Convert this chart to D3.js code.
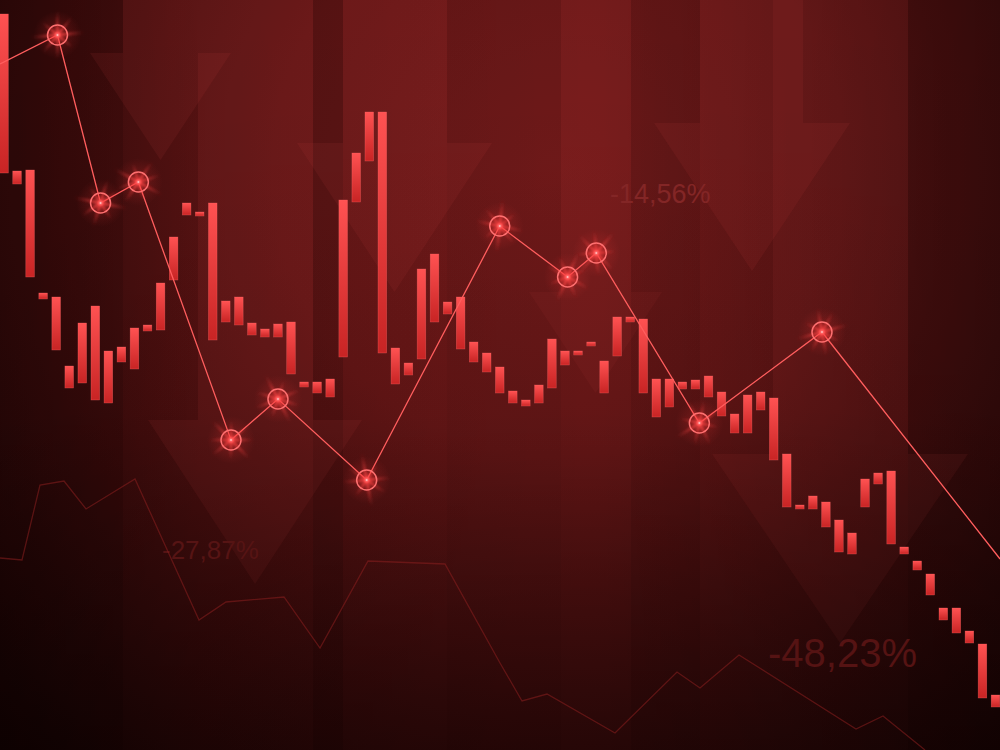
<!DOCTYPE html>
<html>
<head>
<meta charset="utf-8">
<script src="https://cdn.jsdelivr.net/npm/d3@7"></script>
<style>
html,body{margin:0;padding:0;background:#2a0606;}
svg{display:block;}
</style>
</head>
<body>
<svg id="chart" width="1000" height="750"></svg>
<script>
// ---------- DATA ----------
// candle index 0..76, high / low values (price units)
const candleHigh = [147.2,115.8,116,91.4,90.6,76.8,85.4,88.8,79.8,80.6,84.4,85,93.4,102.6,109.4,107.6,109.4,89.8,90.6,85.4,
  84.2,85.2,85.6,73.6,73.6,74.2,110,119.4,127.6,127.6,80.4,77.4,96.2,99.2,89.6,90.6,81.6,79.4,76.6,71.8,
  70,73,82.2,79.8,79.8,81.6,77.8,86.6,86.6,86.2,74.2,74.2,73.6,74,74.8,71.6,67.2,71,71.6,70.4,
  59.2,49,50.8,49.6,46,43.4,54.2,55.4,55.8,40.6,37.8,35.2,28.4,28.4,23.8,21.2,11];
const candleLow = [115.4,113.2,94.6,90.2,80,72.4,73.4,70,69.4,77.6,76.2,83.8,84,94,107,106.8,82,85.6,85,83,
  82.6,82.6,75.2,72.6,71.4,70.6,78.6,109.6,117.8,79.4,73.2,75,78.2,85.6,87.2,80.2,77.6,75.6,71.4,69.4,
  68.8,69.4,72.4,77,79,80.8,71.4,78.8,85.6,71.4,66.6,68.6,72.2,72.2,70.6,66.8,63.4,63.4,68,58,
  48.6,48.2,48.2,44.6,39.6,39.2,48.6,53.2,41.2,39.2,36,31,26,23.4,21.4,10.4,8.6];

// highlighted trend line (x in candle-index units)
const trendX = [-0.3,4.1,7.4,10.3,17.4,21.0,27.8,38.0,43.2,45.4,53.3,62.7,76.35];
const trendY = [137.2,143,109.4,113.6,62,70.2,54,104.8,94.6,99.4,65.4,83.6,38.2];
const trendMarked = [false,true,true,true,true,true,true,true,true,true,true,true,false];

// faint background line (x in 0..100 units)
const bgX = [0,2.2,4,6.4,8.6,13.5,19.9,22.6,28.4,32,36.8,44.5,50,52.2,54.7,61.5,67.7,70,73.9,85.6,88.3,92.5];
const bgY = [38.4,38,53,53.8,48.2,54.2,26,29.6,30.6,20.4,37.8,37.2,17.4,9.8,11.2,3.4,15.6,12.4,19,4.2,6.8,0];

// decorative down arrows (x in 0..100 units, y in price units)
const arrowShaft0 = [12.3,34.3,70,56.1,19.8,77.3];
const arrowShaft1 = [19.8,44.7,80.3,63.1,31.3,90.8];
const arrowHead0  = [9,29.7,65.4,52.9,14.8,71.2];
const arrowHead1  = [23.1,49.2,85,66.2,36.2,96.8];
const arrowHeadY  = [139.4,121.4,125.4,91.6,66,59.2];
const arrowTipY   = [118,91.6,95.8,71.4,33.2,21.4];
const arrowOpacity= [0.10,0.10,0.10,0.08,0.10,0.09];

// labels
const labelText = ["-14,56%","-27,87%","-48,23%"];
const labelX    = [61,16.2,76.8];
const labelY    = [109.4,38.2,16.6];
const labelSize = [27,26,40];
const labelColor= ["#832626","#561414","#551313"];

// ---------- SETUP ----------
const W = 1000, H = 750;
const svg = d3.select("#chart");
const defs = svg.append("defs");

const x = d3.scaleLinear().domain([0,76]).range([4,995.5]);
const xb = d3.scaleLinear().domain([0,100]).range([0,W]);
const y = d3.scaleLinear().domain([0,150]).range([H,0]);

// background gradients
const rg = defs.append("radialGradient").attr("id","bgRad")
  .attr("gradientUnits","userSpaceOnUse").attr("cx",560).attr("cy",170).attr("r",820);
rg.append("stop").attr("offset",0).attr("stop-color","#761b1b");
rg.append("stop").attr("offset",0.35).attr("stop-color","#661616");
rg.append("stop").attr("offset",0.7).attr("stop-color","#400b0b");
rg.append("stop").attr("offset",1).attr("stop-color","#200303");

const lg = defs.append("linearGradient").attr("id","bgDark").attr("x1",0).attr("y1",0).attr("x2",0).attr("y2",1);
lg.append("stop").attr("offset",0).attr("stop-color","#000").attr("stop-opacity",0);
lg.append("stop").attr("offset",0.55).attr("stop-color","#000").attr("stop-opacity",0.05);
lg.append("stop").attr("offset",1).attr("stop-color","#000").attr("stop-opacity",0.4);

const lgx = defs.append("linearGradient").attr("id","bgSide").attr("x1",0).attr("y1",0).attr("x2",1).attr("y2",0);
lgx.append("stop").attr("offset",0).attr("stop-color","#000").attr("stop-opacity",0.28);
lgx.append("stop").attr("offset",0.2).attr("stop-color","#000").attr("stop-opacity",0.08);
lgx.append("stop").attr("offset",0.6).attr("stop-color","#000").attr("stop-opacity",0);
lgx.append("stop").attr("offset",1).attr("stop-color","#000").attr("stop-opacity",0.3);

svg.append("rect").attr("width",W).attr("height",H).attr("fill","url(#bgRad)");
svg.append("rect").attr("width",W).attr("height",H).attr("fill","url(#bgSide)");

// subtle darker columns
const colX0 = [0,31.3,44.7,63.1,90.8];
const colX1 = [12.3,34.3,56.1,70,100];
const colOp = [0.10,0.12,0.04,0.08,0.08];
svg.append("g").selectAll("rect").data(colX0).join("rect")
  .attr("x",d=>xb(d)).attr("y",0)
  .attr("width",(d,i)=>xb(colX1[i])-xb(d)).attr("height",H)
  .attr("fill","#000").attr("opacity",(d,i)=>colOp[i]);

// arrows
const arrowG = svg.append("g");
arrowShaft0.forEach((s0,i)=>{
  const s1 = arrowShaft1[i], h0 = arrowHead0[i], h1 = arrowHead1[i];
  const hy = y(arrowHeadY[i]), ty = y(arrowTipY[i]);
  const cx = (xb(h0)+xb(h1))/2;
  const p = d3.path();
  p.moveTo(xb(s0),0); p.lineTo(xb(s1),0); p.lineTo(xb(s1),hy);
  p.lineTo(xb(h1),hy); p.lineTo(cx,ty); p.lineTo(xb(h0),hy);
  p.lineTo(xb(s0),hy); p.closePath();
  arrowG.append("path").attr("d",p.toString())
    .attr("fill","#d04545").attr("opacity",arrowOpacity[i]);
});

svg.append("rect").attr("width",W).attr("height",H).attr("fill","url(#bgDark)");

// labels
svg.append("g").selectAll("text").data(labelText).join("text")
  .attr("x",(d,i)=>xb(labelX[i])).attr("y",(d,i)=>y(labelY[i]))
  .attr("font-family","'Liberation Sans', Arial, sans-serif")
  .attr("font-size",(d,i)=>labelSize[i])
  .attr("fill",(d,i)=>labelColor[i])
  .text(d=>d);

// faint background line
const bgLine = d3.line().x(d=>xb(d[0])).y(d=>y(d[1]));
svg.append("path").datum(bgX.map((v,i)=>[v,bgY[i]]))
  .attr("d",bgLine).attr("fill","none")
  .attr("stroke","#8a1f1f").attr("stroke-opacity",0.55).attr("stroke-width",1.3);

// candles
const cg = defs.append("linearGradient").attr("id","candleGrad").attr("x1",0).attr("y1",0).attr("x2",0).attr("y2",1);
cg.append("stop").attr("offset",0).attr("stop-color","#ff5252");
cg.append("stop").attr("offset",1).attr("stop-color","#c82424");

const cw = 8.6;
svg.append("g").selectAll("rect").data(candleHigh).join("rect")
  .attr("x",(d,i)=>x(i)-cw/2)
  .attr("y",d=>y(d))
  .attr("width",cw)
  .attr("height",(d,i)=>Math.max(1,y(candleLow[i])-y(d)))
  .attr("fill","url(#candleGrad)")
  .attr("stroke","#ff6b6b").attr("stroke-opacity",0.5).attr("stroke-width",0.6);

// trend line
const tLine = d3.line().x(d=>x(d[0])).y(d=>y(d[1]));
svg.append("path").datum(trendX.map((v,i)=>[v,trendY[i]]))
  .attr("d",tLine).attr("fill","none")
  .attr("stroke","#ff5e5e").attr("stroke-width",1.3);

// glow defs
const blur = defs.append("filter").attr("id","soft").attr("x","-50%").attr("y","-50%").attr("width","200%").attr("height","200%");
blur.append("feGaussianBlur").attr("stdDeviation",1.2);
const gg = defs.append("radialGradient").attr("id","glow");
gg.append("stop").attr("offset",0).attr("stop-color","#ff5555").attr("stop-opacity",0.45);
gg.append("stop").attr("offset",0.4).attr("stop-color","#ff3a3a").attr("stop-opacity",0.14);
gg.append("stop").attr("offset",1).attr("stop-color","#ff3a3a").attr("stop-opacity",0);
const rayG = defs.append("radialGradient").attr("id","ray");
rayG.append("stop").attr("offset",0).attr("stop-color","#ff5a5a").attr("stop-opacity",0.7);
rayG.append("stop").attr("offset",0.5).attr("stop-color","#ff4040").attr("stop-opacity",0.22);
rayG.append("stop").attr("offset",1).attr("stop-color","#ff4040").attr("stop-opacity",0);
const dotG = defs.append("radialGradient").attr("id","dot");
dotG.append("stop").attr("offset",0).attr("stop-color","#ffe8e8").attr("stop-opacity",1);
dotG.append("stop").attr("offset",0.35).attr("stop-color","#ff6a6a").attr("stop-opacity",0.9);
dotG.append("stop").attr("offset",1).attr("stop-color","#ff4040").attr("stop-opacity",0);

const rayAngles = [-70,-25,20,75,115,160,205,250];
const rayLens   = [24,28,20,26,22,28,20,24];

const markers = svg.append("g");
trendX.forEach((tx,i)=>{
  if(!trendMarked[i]) return;
  const px = x(tx), py = y(trendY[i]);
  const g = markers.append("g").attr("transform",`translate(${px},${py})`);
  g.append("circle").attr("r",24).attr("fill","url(#glow)");
  const rays = g.append("g").attr("filter","url(#soft)");
  rayAngles.forEach((a,k)=>{
    rays.append("ellipse").attr("rx",rayLens[k]).attr("ry",2.2)
      .attr("transform",`rotate(${a + i*17})`)
      .attr("fill","url(#ray)");
  });
  g.append("circle").attr("r",10).attr("fill","#ff3030").attr("fill-opacity",0.15)
    .attr("stroke","#ff7070").attr("stroke-width",1.5);
  g.append("circle").attr("r",4).attr("fill","url(#dot)");
});
</script>
</body>
</html>
